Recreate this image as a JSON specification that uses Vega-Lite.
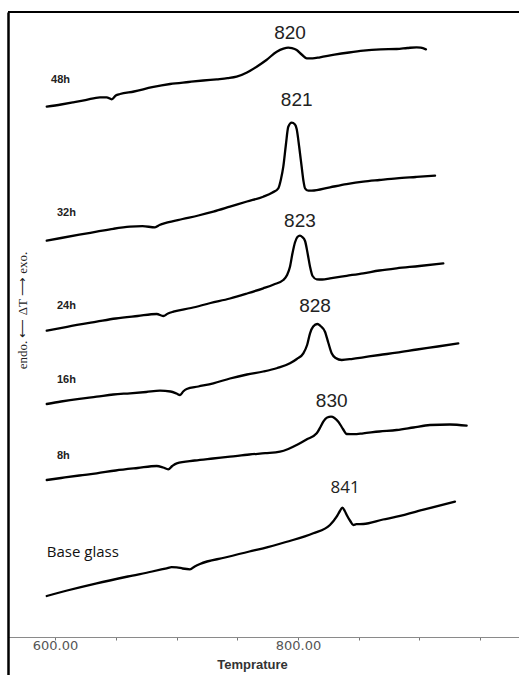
{
  "$schema": "https://vega.github.io/schema/vega-lite/v6.json",
  "width": 511,
  "height": 663,
  "autosize": {"type": "none"},
  "padding": {"left": 8, "top": 12, "right": 0, "bottom": 0},
  "background": "white",
  "config": {"view": {"stroke": null}},
  "datasets": {
    "curves": [
      {"series": "48h", "temp": 593.2, "dT": 530.3},
      {"series": "48h", "temp": 605, "dT": 532.5},
      {"series": "48h", "temp": 615, "dT": 534.6},
      {"series": "48h", "temp": 625, "dT": 536.8},
      {"series": "48h", "temp": 637.0, "dT": 539.7},
      {"series": "48h", "temp": 642.5, "dT": 539.6},
      {"series": "48h", "temp": 646.7, "dT": 537.7},
      {"series": "48h", "temp": 650, "dT": 541.5},
      {"series": "48h", "temp": 653.5, "dT": 543},
      {"series": "48h", "temp": 665, "dT": 545.5},
      {"series": "48h", "temp": 680, "dT": 549.8},
      {"series": "48h", "temp": 694.7, "dT": 553},
      {"series": "48h", "temp": 710, "dT": 555},
      {"series": "48h", "temp": 722, "dT": 556.5},
      {"series": "48h", "temp": 733.1, "dT": 557.7},
      {"series": "48h", "temp": 742, "dT": 558.8},
      {"series": "48h", "temp": 749.5, "dT": 560.3},
      {"series": "48h", "temp": 758, "dT": 564.5},
      {"series": "48h", "temp": 766.0, "dT": 570.3},
      {"series": "48h", "temp": 774, "dT": 577},
      {"series": "48h", "temp": 782.5, "dT": 585.3},
      {"series": "48h", "temp": 788, "dT": 588.3},
      {"series": "48h", "temp": 792.0, "dT": 589.3},
      {"series": "48h", "temp": 795, "dT": 588.8},
      {"series": "48h", "temp": 798.9, "dT": 587},
      {"series": "48h", "temp": 803, "dT": 582.5},
      {"series": "48h", "temp": 807.2, "dT": 578.7},
      {"series": "48h", "temp": 812, "dT": 578.6},
      {"series": "48h", "temp": 818.1, "dT": 579.7},
      {"series": "48h", "temp": 830, "dT": 582.3},
      {"series": "48h", "temp": 842, "dT": 584.5},
      {"series": "48h", "temp": 853.7, "dT": 586.3},
      {"series": "48h", "temp": 868, "dT": 587.6},
      {"series": "48h", "temp": 881.2, "dT": 588},
      {"series": "48h", "temp": 890, "dT": 589},
      {"series": "48h", "temp": 897.6, "dT": 589.7},
      {"series": "48h", "temp": 901, "dT": 589.3},
      {"series": "48h", "temp": 905.3, "dT": 587.7},

      {"series": "32h", "temp": 593.2, "dT": 396.3},
      {"series": "32h", "temp": 605, "dT": 399},
      {"series": "32h", "temp": 620, "dT": 402.3},
      {"series": "32h", "temp": 634.3, "dT": 405.3},
      {"series": "32h", "temp": 648, "dT": 408.2},
      {"series": "32h", "temp": 661.7, "dT": 410.3},
      {"series": "32h", "temp": 672, "dT": 410.8},
      {"series": "32h", "temp": 682.3, "dT": 409.7},
      {"series": "32h", "temp": 686, "dT": 412},
      {"series": "32h", "temp": 691.9, "dT": 414.3},
      {"series": "32h", "temp": 705, "dT": 418},
      {"series": "32h", "temp": 718, "dT": 421.5},
      {"series": "32h", "temp": 730.3, "dT": 425.3},
      {"series": "32h", "temp": 744.0, "dT": 430.3},
      {"series": "32h", "temp": 758, "dT": 435.5},
      {"series": "32h", "temp": 771.4, "dT": 440.3},
      {"series": "32h", "temp": 779, "dT": 444.5},
      {"series": "32h", "temp": 783.8, "dT": 448.7},
      {"series": "32h", "temp": 786, "dT": 458},
      {"series": "32h", "temp": 787.9, "dT": 470.3},
      {"series": "32h", "temp": 790, "dT": 492},
      {"series": "32h", "temp": 792.0, "dT": 510.3},
      {"series": "32h", "temp": 794.8, "dT": 514.3},
      {"series": "32h", "temp": 797.5, "dT": 512.5},
      {"series": "32h", "temp": 798.9, "dT": 508},
      {"series": "32h", "temp": 801, "dT": 490},
      {"series": "32h", "temp": 803.0, "dT": 470.3},
      {"series": "32h", "temp": 804.5, "dT": 456},
      {"series": "32h", "temp": 805.8, "dT": 448.7},
      {"series": "32h", "temp": 808.5, "dT": 446.3},
      {"series": "32h", "temp": 811.3, "dT": 446.3},
      {"series": "32h", "temp": 826.3, "dT": 449.7},
      {"series": "32h", "temp": 840, "dT": 452.8},
      {"series": "32h", "temp": 853.7, "dT": 455.3},
      {"series": "32h", "temp": 867, "dT": 457},
      {"series": "32h", "temp": 881.2, "dT": 458.7},
      {"series": "32h", "temp": 897, "dT": 460},
      {"series": "32h", "temp": 912.8, "dT": 461.3},

      {"series": "24h", "temp": 593.2, "dT": 306.3},
      {"series": "24h", "temp": 610, "dT": 310.2},
      {"series": "24h", "temp": 634.3, "dT": 315.3},
      {"series": "24h", "temp": 650, "dT": 318.5},
      {"series": "24h", "temp": 668, "dT": 321},
      {"series": "24h", "temp": 683.7, "dT": 323},
      {"series": "24h", "temp": 689.1, "dT": 321},
      {"series": "24h", "temp": 693, "dT": 323.5},
      {"series": "24h", "temp": 697.4, "dT": 325.3},
      {"series": "24h", "temp": 712, "dT": 329},
      {"series": "24h", "temp": 728, "dT": 334},
      {"series": "24h", "temp": 744.0, "dT": 338.5},
      {"series": "24h", "temp": 758, "dT": 343.5},
      {"series": "24h", "temp": 771.4, "dT": 348.7},
      {"series": "24h", "temp": 780, "dT": 352.5},
      {"series": "24h", "temp": 787.9, "dT": 357},
      {"series": "24h", "temp": 791, "dT": 362},
      {"series": "24h", "temp": 793.4, "dT": 370.3},
      {"series": "24h", "temp": 795.5, "dT": 384},
      {"series": "24h", "temp": 797.5, "dT": 394.5},
      {"series": "24h", "temp": 799.5, "dT": 400},
      {"series": "24h", "temp": 801.6, "dT": 401.3},
      {"series": "24h", "temp": 803.5, "dT": 400},
      {"series": "24h", "temp": 805.8, "dT": 396},
      {"series": "24h", "temp": 808, "dT": 383},
      {"series": "24h", "temp": 809.9, "dT": 370.3},
      {"series": "24h", "temp": 812, "dT": 361},
      {"series": "24h", "temp": 815.4, "dT": 357.7},
      {"series": "24h", "temp": 820, "dT": 357.5},
      {"series": "24h", "temp": 826.3, "dT": 358.7},
      {"series": "24h", "temp": 840, "dT": 361.2},
      {"series": "24h", "temp": 853.7, "dT": 363.7},
      {"series": "24h", "temp": 867, "dT": 366.5},
      {"series": "24h", "temp": 881.2, "dT": 368.7},
      {"series": "24h", "temp": 900, "dT": 371},
      {"series": "24h", "temp": 919.6, "dT": 373.7},

      {"series": "16h", "temp": 593.2, "dT": 233},
      {"series": "16h", "temp": 605, "dT": 235.5},
      {"series": "16h", "temp": 620, "dT": 238.2},
      {"series": "16h", "temp": 634.3, "dT": 240.3},
      {"series": "16h", "temp": 648, "dT": 242.5},
      {"series": "16h", "temp": 661.7, "dT": 243.7},
      {"series": "16h", "temp": 675, "dT": 245},
      {"series": "16h", "temp": 686.4, "dT": 246.3},
      {"series": "16h", "temp": 695, "dT": 245.5},
      {"series": "16h", "temp": 700, "dT": 243.5},
      {"series": "16h", "temp": 702.9, "dT": 242},
      {"series": "16h", "temp": 705.5, "dT": 245.5},
      {"series": "16h", "temp": 708.4, "dT": 248},
      {"series": "16h", "temp": 718, "dT": 250.5},
      {"series": "16h", "temp": 730.3, "dT": 253.7},
      {"series": "16h", "temp": 744.0, "dT": 258.5},
      {"series": "16h", "temp": 758, "dT": 262.5},
      {"series": "16h", "temp": 771.4, "dT": 265.5},
      {"series": "16h", "temp": 783, "dT": 269},
      {"series": "16h", "temp": 793.4, "dT": 273.7},
      {"series": "16h", "temp": 799, "dT": 278},
      {"series": "16h", "temp": 804.4, "dT": 283.7},
      {"series": "16h", "temp": 807.5, "dT": 292},
      {"series": "16h", "temp": 809.9, "dT": 303.7},
      {"series": "16h", "temp": 812.5, "dT": 310.5},
      {"series": "16h", "temp": 815.9, "dT": 313},
      {"series": "16h", "temp": 818.5, "dT": 311},
      {"series": "16h", "temp": 822.2, "dT": 305.3},
      {"series": "16h", "temp": 825, "dT": 294},
      {"series": "16h", "temp": 827.7, "dT": 283.7},
      {"series": "16h", "temp": 831, "dT": 279},
      {"series": "16h", "temp": 836.0, "dT": 277},
      {"series": "16h", "temp": 845, "dT": 278.2},
      {"series": "16h", "temp": 853.7, "dT": 279.7},
      {"series": "16h", "temp": 867, "dT": 282},
      {"series": "16h", "temp": 881.2, "dT": 284.3},
      {"series": "16h", "temp": 898, "dT": 287.5},
      {"series": "16h", "temp": 915, "dT": 290.5},
      {"series": "16h", "temp": 931.9, "dT": 293.7},

      {"series": "8h", "temp": 593.2, "dT": 157},
      {"series": "8h", "temp": 605, "dT": 159},
      {"series": "8h", "temp": 620, "dT": 161.5},
      {"series": "8h", "temp": 634.3, "dT": 163.7},
      {"series": "8h", "temp": 650, "dT": 166.5},
      {"series": "8h", "temp": 668, "dT": 169},
      {"series": "8h", "temp": 683.7, "dT": 171},
      {"series": "8h", "temp": 689, "dT": 169.5},
      {"series": "8h", "temp": 693.2, "dT": 167.7},
      {"series": "8h", "temp": 696.5, "dT": 171},
      {"series": "8h", "temp": 700.2, "dT": 173.7},
      {"series": "8h", "temp": 715, "dT": 176.5},
      {"series": "8h", "temp": 730, "dT": 178.5},
      {"series": "8h", "temp": 744.0, "dT": 180.3},
      {"series": "8h", "temp": 760, "dT": 182.5},
      {"series": "8h", "temp": 773, "dT": 183.8},
      {"series": "8h", "temp": 785.2, "dT": 185.3},
      {"series": "8h", "temp": 792, "dT": 188},
      {"series": "8h", "temp": 798.9, "dT": 192},
      {"series": "8h", "temp": 807, "dT": 197.5},
      {"series": "8h", "temp": 815.4, "dT": 203.7},
      {"series": "8h", "temp": 818.5, "dT": 210},
      {"series": "8h", "temp": 820.8, "dT": 215.3},
      {"series": "8h", "temp": 824, "dT": 219.5},
      {"series": "8h", "temp": 827.2, "dT": 220.3},
      {"series": "8h", "temp": 830, "dT": 219},
      {"series": "8h", "temp": 833.2, "dT": 215.3},
      {"series": "8h", "temp": 837, "dT": 208},
      {"series": "8h", "temp": 840.1, "dT": 203},
      {"series": "8h", "temp": 846, "dT": 202.8},
      {"series": "8h", "temp": 853.7, "dT": 203.7},
      {"series": "8h", "temp": 867, "dT": 205.5},
      {"series": "8h", "temp": 881.2, "dT": 207},
      {"series": "8h", "temp": 895, "dT": 209.5},
      {"series": "8h", "temp": 908.6, "dT": 212},
      {"series": "8h", "temp": 925, "dT": 212.5},
      {"series": "8h", "temp": 938.8, "dT": 211.3},

      {"series": "Base glass", "temp": 593.2, "dT": 41},
      {"series": "Base glass", "temp": 610, "dT": 46.5},
      {"series": "Base glass", "temp": 634.3, "dT": 53.7},
      {"series": "Base glass", "temp": 660, "dT": 60.5},
      {"series": "Base glass", "temp": 680, "dT": 65.5},
      {"series": "Base glass", "temp": 691.9, "dT": 68.7},
      {"series": "Base glass", "temp": 696, "dT": 69.8},
      {"series": "Base glass", "temp": 700.2, "dT": 69.7},
      {"series": "Base glass", "temp": 705, "dT": 68.5},
      {"series": "Base glass", "temp": 711.1, "dT": 67.7},
      {"series": "Base glass", "temp": 715, "dT": 70.5},
      {"series": "Base glass", "temp": 719.3, "dT": 73},
      {"series": "Base glass", "temp": 740, "dT": 79.5},
      {"series": "Base glass", "temp": 760, "dT": 85.5},
      {"series": "Base glass", "temp": 771.4, "dT": 88.7},
      {"series": "Base glass", "temp": 790, "dT": 95},
      {"series": "Base glass", "temp": 812.6, "dT": 103.7},
      {"series": "Base glass", "temp": 826.3, "dT": 112},
      {"series": "Base glass", "temp": 831.8, "dT": 120.3},
      {"series": "Base glass", "temp": 834.5, "dT": 126},
      {"series": "Base glass", "temp": 836.5, "dT": 129.3},
      {"series": "Base glass", "temp": 838.5, "dT": 126},
      {"series": "Base glass", "temp": 840.1, "dT": 122},
      {"series": "Base glass", "temp": 843, "dT": 116},
      {"series": "Base glass", "temp": 845.5, "dT": 112},
      {"series": "Base glass", "temp": 848, "dT": 112.8},
      {"series": "Base glass", "temp": 853.7, "dT": 113},
      {"series": "Base glass", "temp": 870, "dT": 117.5},
      {"series": "Base glass", "temp": 881.2, "dT": 120.3},
      {"series": "Base glass", "temp": 905, "dT": 127.8},
      {"series": "Base glass", "temp": 929.2, "dT": 135.3}
    ],
    "labels": [
      {"kind": "hour", "text": "48h", "temp": 596.7, "dT": 557},
      {"kind": "hour", "text": "32h", "temp": 601.6, "dT": 424},
      {"kind": "hour", "text": "24h", "temp": 601.6, "dT": 331},
      {"kind": "hour", "text": "16h", "temp": 601.6, "dT": 257},
      {"kind": "hour", "text": "8h", "temp": 601.6, "dT": 181},
      {"kind": "base", "text": "Base glass", "temp": 593.2, "dT": 85},
      {"kind": "peak", "text": "820", "temp": 793.4, "dT": 604},
      {"kind": "peak", "text": "821", "temp": 798.9, "dT": 537},
      {"kind": "peak", "text": "823", "temp": 801.6, "dT": 416},
      {"kind": "peak", "text": "828", "temp": 814.0, "dT": 331},
      {"kind": "peak", "text": "830", "temp": 827.7, "dT": 236},
      {"kind": "peak2", "text": "841", "temp": 838.7, "dT": 149}
    ],
    "frame": [{"edge": 625}]
  },
  "layer": [
    {
      "data": {"name": "curves"},
      "mark": {"type": "line", "color": "black", "interpolate": "monotone", "strokeJoin": "round", "strokeCap": "round"},
      "encoding": {
        "x": {
          "field": "temp", "type": "quantitative",
          "scale": {"domain": [561.3, 981.9], "nice": false, "zero": false},
          "axis": {
            "title": "Temprature",
            "orient": "bottom",
            "offset": -38,
            "values": [600, 650, 700, 750, 800, 850, 900, 950],
            "labelExpr": "datum.value == 600 || datum.value == 800 ? format(datum.value, '.2f') : ''",
            "grid": false,
            "domainColor": "#8a8a8a",
            "domainWidth": 1.2,
            "tickColor": "#777777",
            "tickSize": 3,
            "labelFont": "DejaVu Sans",
            "labelFontSize": 13,
            "labelColor": "#555555",
            "labelPadding": -1,
            "titleFont": "Liberation Sans",
            "titleFontSize": 13,
            "titleFontWeight": "bold",
            "titleColor": "#333333",
            "titleX": 244,
            "titleY": 27,
            "titleAlign": "center",
            "titleBaseline": "middle"
          }
        },
        "y": {
          "field": "dT", "type": "quantitative",
          "scale": {"domain": [-38, 625], "nice": false, "zero": false},
          "axis": {
            "title": "endo. ⟵ ΔT ⟶ exo.",
            "domain": true,
            "domainColor": "black",
            "domainWidth": 2.5,
            "ticks": false,
            "labels": false,
            "grid": false,
            "titleFont": "Liberation Serif",
            "titleFontSize": 13,
            "titleFontWeight": "normal",
            "titleColor": "#222222",
            "titleX": 14,
            "titleY": 298,
            "titleAngle": 270,
            "titleAlign": "center",
            "titleBaseline": "middle"
          }
        },
        "detail": {"field": "series", "type": "nominal"},
        "strokeWidth": {
          "field": "series", "type": "nominal",
          "scale": {"domain": ["48h", "32h", "24h", "16h", "8h", "Base glass"], "range": [2.3, 2.3, 2.3, 2.3, 2.3, 1.5]},
          "legend": null
        }
      }
    },
    {
      "data": {"name": "frame"},
      "mark": {"type": "rule", "color": "black", "strokeWidth": 2},
      "encoding": {
        "y": {"field": "edge", "type": "quantitative", "scale": {"domain": [-38, 625], "nice": false, "zero": false}}
      }
    },
    {
      "data": {"name": "labels"},
      "transform": [{"filter": "datum.kind == 'hour'"}],
      "mark": {"type": "text", "align": "left", "baseline": "middle", "font": "Liberation Sans", "fontWeight": "bold", "fontSize": 11, "color": "#222222"},
      "encoding": {
        "x": {"field": "temp", "type": "quantitative", "scale": {"domain": [561.3, 981.9], "nice": false, "zero": false}},
        "y": {"field": "dT", "type": "quantitative", "scale": {"domain": [-38, 625], "nice": false, "zero": false}},
        "text": {"field": "text"}
      }
    },
    {
      "data": {"name": "labels"},
      "transform": [{"filter": "datum.kind == 'peak'"}],
      "mark": {"type": "text", "align": "center", "baseline": "middle", "font": "Liberation Sans", "fontSize": 19, "color": "#222222"},
      "encoding": {
        "x": {"field": "temp", "type": "quantitative"},
        "y": {"field": "dT", "type": "quantitative"},
        "text": {"field": "text"}
      }
    },
    {
      "data": {"name": "labels"},
      "transform": [{"filter": "datum.kind == 'peak2'"}],
      "mark": {"type": "text", "align": "center", "baseline": "middle", "font": "Open Sans", "fontSize": 17, "color": "#222222"},
      "encoding": {
        "x": {"field": "temp", "type": "quantitative"},
        "y": {"field": "dT", "type": "quantitative"},
        "text": {"field": "text"}
      }
    },
    {
      "data": {"name": "labels"},
      "transform": [{"filter": "datum.kind == 'base'"}],
      "mark": {"type": "text", "align": "left", "baseline": "middle", "font": "Open Sans", "fontSize": 15, "color": "#111111"},
      "encoding": {
        "x": {"field": "temp", "type": "quantitative"},
        "y": {"field": "dT", "type": "quantitative"},
        "text": {"field": "text"}
      }
    }
  ]
}
